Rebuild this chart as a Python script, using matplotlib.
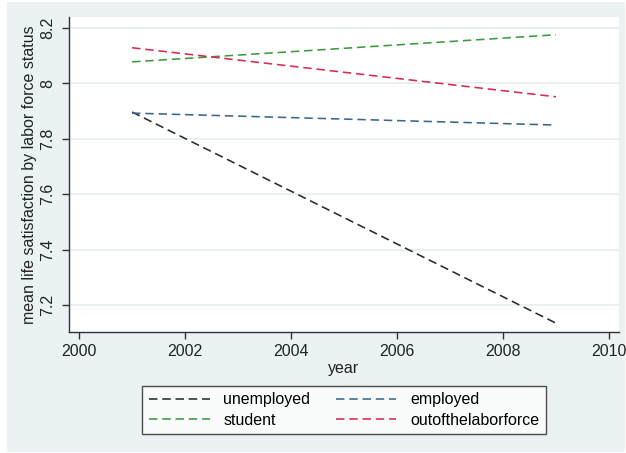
import matplotlib
matplotlib.use("Agg")
import matplotlib.pyplot as plt
from matplotlib.patches import Rectangle

plt.rcParams['font.family'] = ['Liberation Sans', 'DejaVu Sans']

years = [2001, 2009]
unemployed = [7.897, 7.135]
employed = [7.893, 7.850]
student = [8.078, 8.176]
outofthelaborforce = [8.129, 7.952]

labels = ["unemployed", "employed", "student", "outofthelaborforce"]
colors = ["#2a2a2a", "#3a6690", "#3b9b3b", "#d62a4e"]

x_ticks = [2000, 2002, 2004, 2006, 2008, 2010]
y_ticks = [7.2, 7.4, 7.6, 7.8, 8.0, 8.2]
y_ticklabels = ["7.2", "7.4", "7.6", "7.8", "8", "8.2"]

W, H = 626, 453
fig = plt.figure(figsize=(W / 100, H / 100), dpi=100)
fig.patch.set_facecolor("white")
bg = "#eaf2f3"
fig.patches.append(Rectangle((7 / W, 1 - 452 / H), 618 / W, 450 / H,
                             transform=fig.transFigure, facecolor=bg,
                             edgecolor="none", zorder=-10))

ax = fig.add_axes([69 / W, 1 - 332 / H, 550 / W, 315 / H])
ax.set_facecolor("white")

series = [unemployed, employed, student, outofthelaborforce]
handles = {}
for name, vals, c in zip(labels, series, colors):
    ln, = ax.plot(years, vals, color=c, lw=1.15, linestyle=(0, (5.3, 3.0)))
    handles[name] = ln

FS = 11.5
ax.set_xlim(1999.81, 2010.19)
ax.set_ylim(7.103, 8.24)
ax.set_xticks(x_ticks)
ax.set_yticks(y_ticks)
ax.set_yticklabels(y_ticklabels, rotation=90, va="center")
ax.tick_params(axis="both", labelsize=FS, colors="#333333", length=5, width=1,
               direction="out")
ax.tick_params(axis="y", pad=5)
ax.tick_params(axis="x", pad=4)
for lab in ax.get_xticklabels() + ax.get_yticklabels():
    lab.set_color("#222222")

ax.grid(axis="y", color="#e4eef0", lw=1.2)
ax.set_axisbelow(True)
for s in ["top", "right"]:
    ax.spines[s].set_visible(False)
for s in ["left", "bottom"]:
    ax.spines[s].set_color("#333333")
    ax.spines[s].set_linewidth(1.0)

ax.set_xlabel("year", fontsize=FS, color="#222222", labelpad=1)
ax.set_ylabel("mean life satisfaction by labor force status", fontsize=FS,
              color="#222222", labelpad=2)

order = ["unemployed", "student", "employed", "outofthelaborforce"]
leg = fig.legend([handles[k] for k in order], order, loc="center",
                 bbox_to_anchor=(344 / W, 1 - 410 / H), ncol=2,
                 fontsize=FS, frameon=True, fancybox=False, handlelength=3.8,
                 handletextpad=0.85, columnspacing=1.6, labelspacing=0.35,
                 borderpad=0.4)
leg.get_frame().set_edgecolor("#222222")
leg.get_frame().set_linewidth(1.0)
leg.get_frame().set_facecolor("white")

fig.savefig("out.png", dpi=100, facecolor=fig.get_facecolor())
